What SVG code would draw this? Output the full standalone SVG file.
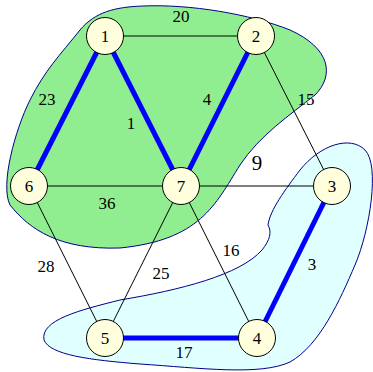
<svg xmlns="http://www.w3.org/2000/svg" width="373" height="372" viewBox="0 0 373 372">
<style>
.blob{stroke:#00008b;stroke-width:1}
.e{stroke:#000;stroke-width:1;fill:none}
.t{stroke:#0000ff;stroke-width:5;fill:none}
.n circle{fill:#ffffdd;stroke:#000;stroke-width:1}
text{font-family:"Liberation Serif","DejaVu Serif",serif;font-size:17px;fill:#000;text-anchor:middle;dominant-baseline:central}
</style>
<g id="regions">
<path class="blob" fill="#90ee90" d="M143,6 C190,4 250,14 290,30 C330,48 335,75 315,95 C290,115 260,135 240,165 C215,205 200,240 120,248 C60,250 30,230 10,205 C0,185 15,130 30,100 C45,70 60,55 80,30 C95,12 115,7 143,6 Z"/>
<path class="blob" fill="#e0ffff" d="M268,225 C270,210 285,190 300,170 C320,145 350,135 365,150 C380,165 370,230 355,265 C340,300 320,345 290,362 C260,376 200,368 140,364 C90,360 50,355 44,340 C40,320 80,310 120,300 C180,290 240,275 262,250 C270,240 272,232 268,225 Z"/>
</g>
<g id="connectors">
<line class="e" x1="105" y1="36" x2="256" y2="36"/>
<line class="e" x1="256" y1="36" x2="332" y2="186"/>
<line class="e" x1="29" y1="186" x2="181" y2="186"/>
<line class="e" x1="181" y1="186" x2="332" y2="186"/>
<line class="e" x1="29" y1="186" x2="105" y2="338"/>
<line class="e" x1="181" y1="186" x2="105" y2="338"/>
<line class="e" x1="181" y1="186" x2="257" y2="338"/>
<line class="t" x1="105" y1="36" x2="29" y2="186"/>
<line class="t" x1="105" y1="36" x2="181" y2="186"/>
<line class="t" x1="256" y1="36" x2="181" y2="186"/>
<line class="t" x1="332" y1="186" x2="257" y2="338"/>
<line class="t" x1="105" y1="338" x2="257" y2="338"/>
<text x="181" y="16">20</text>
<text x="47" y="99">23</text>
<text x="131" y="123">1</text>
<text x="207" y="99">4</text>
<text x="306" y="99">15</text>
<text x="257" y="163" style="font-size:21px">9</text>
<text x="107" y="203">36</text>
<text x="46" y="266">28</text>
<text x="161" y="273">25</text>
<text x="231" y="250">16</text>
<text x="312" y="264">3</text>
<text x="184" y="352">17</text>
</g>
<g id="n1" class="n"><circle cx="105" cy="36" r="18.5"/><text x="105" y="36">1</text></g>
<g id="n2" class="n"><circle cx="256" cy="36" r="18.5"/><text x="256" y="36">2</text></g>
<g id="n3" class="n"><circle cx="332" cy="186" r="18.5"/><text x="332" y="186">3</text></g>
<g id="n4" class="n"><circle cx="257" cy="338" r="18.5"/><text x="257" y="338">4</text></g>
<g id="n5" class="n"><circle cx="105" cy="338" r="18.5"/><text x="105" y="338">5</text></g>
<g id="n6" class="n"><circle cx="29" cy="186" r="18.5"/><text x="29" y="186">6</text></g>
<g id="n7" class="n"><circle cx="181" cy="186" r="18.5"/><text x="181" y="186">7</text></g>
</svg>
